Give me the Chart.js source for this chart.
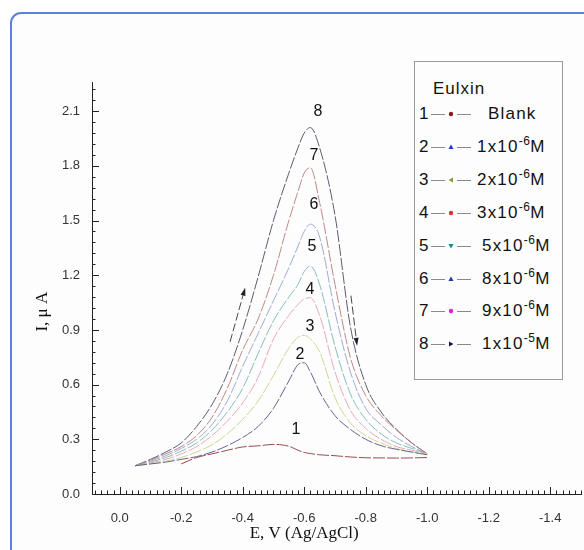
<!DOCTYPE html>
<html>
<head>
<meta charset="utf-8">
<script src="https://cdn.jsdelivr.net/npm/chart.js@4.4.0/dist/chart.umd.min.js"></script>
<style>
  html, body { margin: 0; padding: 0; background: #fff; overflow: hidden; }
  #frame { position: absolute; left: 10px; top: 12px; width: 620px; height: 600px;
           border: 2px solid #5b7fdc; border-radius: 11px; background: #fdfdfd; }
  #chart { position: absolute; left: 0; top: 0; }
  #legend { position: absolute; left: 414px; top: 61px; width: 147px; height: 317px;
            border: 1px solid #9a9a9a; background: #fdfdfd;
            font-family: "Liberation Sans", Arial, sans-serif; font-size: 17px; color: #111; }
  #legend .ltitle { position: absolute; left: 18px; top: 17px; letter-spacing: 1px; }
  #legend .row { position: absolute; left: 0; width: 147px; height: 22px; line-height: 22px; }
  #legend .num { position: absolute; left: 4px; top: 0; }
  #legend svg { position: absolute; left: 14px; top: 6px; }
  #legend .txt { position: absolute; top: 0; letter-spacing: 1.2px; white-space: nowrap; }
  #legend sup { font-size: 12px; vertical-align: 0; position: relative; top: -7px; letter-spacing: 0.5px; }
</style>
</head>
<body>
<div id="frame"></div>
<canvas id="chart" width="584" height="550"></canvas>
<div id="legend"></div>
<script>
// potential grid (V vs Ag/AgCl) and currents (uA)
var potential = [-0.05, -0.1, -0.15, -0.2, -0.25, -0.3, -0.35, -0.4, -0.45, -0.5, -0.55, -0.58, -0.6, -0.62, -0.65, -0.7, -0.75, -0.8, -0.85, -0.9, -0.95, -1.0];
var current1 = [null, null, null, 0.165, 0.2, 0.22, 0.24, 0.258, 0.264, 0.272, 0.262, 0.24, 0.228, 0.222, 0.215, 0.21, 0.203, 0.199, 0.198, 0.197, 0.198, 0.2];
var current2 = [0.155, 0.165, 0.175, 0.19, 0.205, 0.23, 0.265, 0.31, 0.37, 0.47, 0.62, 0.71, 0.72, 0.67, 0.56, 0.43, 0.355, 0.3, 0.265, 0.245, 0.23, 0.215];
var current3 = [0.155, 0.165, 0.18, 0.2, 0.23, 0.27, 0.33, 0.41, 0.51, 0.65, 0.8, 0.86, 0.87, 0.85, 0.78, 0.53, 0.39, 0.32, 0.28, 0.25, 0.23, 0.22];
var current4 = [0.155, 0.17, 0.19, 0.22, 0.26, 0.32, 0.4, 0.5, 0.64, 0.85, 0.98, 1.04, 1.07, 1.077, 0.98, 0.67, 0.46, 0.36, 0.3, 0.26, 0.24, 0.22];
var current5 = [0.155, 0.175, 0.2, 0.235, 0.28, 0.35, 0.45, 0.58, 0.77, 0.95, 1.08, 1.15, 1.22, 1.25, 1.15, 0.81, 0.55, 0.41, 0.33, 0.28, 0.25, 0.22];
var current6 = [0.155, 0.18, 0.21, 0.25, 0.3, 0.38, 0.51, 0.7, 0.88, 1.06, 1.24, 1.36, 1.44, 1.48, 1.41, 1.0, 0.67, 0.47, 0.38, 0.31, 0.26, 0.22];
var current7 = [0.155, 0.185, 0.22, 0.26, 0.32, 0.42, 0.58, 0.79, 0.96, 1.2, 1.5, 1.66, 1.76, 1.79, 1.6, 1.15, 0.75, 0.54, 0.43, 0.35, 0.28, 0.22];
var current8 = [0.155, 0.19, 0.23, 0.28, 0.37, 0.49, 0.66, 0.9, 1.19, 1.5, 1.76, 1.9, 1.98, 2.01, 1.9, 1.53, 0.92, 0.6, 0.45, 0.355, 0.28, 0.22];

var xTicks = [0, -0.2, -0.4, -0.6, -0.8, -1.0, -1.2, -1.4];
var yTicks = [0, 0.3, 0.6, 0.9, 1.2, 1.5, 1.8, 2.1];

var legendTitle = 'Eulxin';
var legendNums = ['1', '2', '3', '4', '5', '6', '7', '8'];
var legendMantissa = ['Blank', '1x10', '2x10', '3x10', '5x10', '8x10', '9x10', '1x10'];
var legendExponent = ['', '-6', '-6', '-6', '-6', '-6', '-6', '-5'];

// curve numbers written next to the peaks (E, I)
var peakLabelE = [-0.573, -0.586, -0.619, -0.619, -0.625, -0.632, -0.632, -0.645];
var peakLabelI = [0.352, 0.764, 0.918, 1.121, 1.357, 1.588, 1.857, 2.1];

// scan direction arrows, [E, I] from -> to
var arrowFrom = [[-0.359, 0.835], [-0.752, 1.088]];
var arrowTo = [[-0.408, 1.132], [-0.772, 0.813]];

var currents = [current1, current2, current3, current4, current5, current6, current7, current8];
var lineColors = ['#8b3a3a', '#55557f', '#cfcf86', '#e6a2ad', '#78b5b3', '#93a3cf', '#bb7a7a', '#4a4a5c'];
var markerColors = ['#8b1a1a', '#1a3fcf', '#8a9a30', '#e03030', '#1a8a8a', '#2040a0', '#e020e0', '#101060'];
var markerShapes = ['circle', 'up', 'left', 'circle', 'down', 'up', 'circle', 'right'];

var datasets = [];
for (var i = 0; i < currents.length; i++) {
  var pts = [];
  for (var j = 0; j < potential.length; j++) {
    pts.push({ x: potential[j], y: currents[i][j] });
  }
  datasets.push({
    label: legendNums[i],
    data: pts,
    borderColor: lineColors[i],
    borderWidth: 0.9,
    borderDash: [12, 2],
    pointRadius: 0,
    cubicInterpolationMode: 'monotone',
    spanGaps: false
  });
}

var tickFont = { family: '"Liberation Sans", Arial, sans-serif', size: 13 };

// inward major + minor tick marks, titles, peak numbers and arrows
var decorations = {
  id: 'decorations',
  afterDraw: function(chart) {
    var ctx = chart.ctx, xs = chart.scales.x, ys = chart.scales.y, area = chart.chartArea;
    ctx.save();
    ctx.strokeStyle = '#222';
    ctx.lineWidth = 1;
    ctx.beginPath();
    for (var k = 4; k >= -75; k--) {
      var px = Math.round(xs.getPixelForValue(k * 0.02)) + 0.5;
      var len = (k % 10 === 0) ? 7 : 3.5;
      ctx.moveTo(px, area.bottom);
      ctx.lineTo(px, area.bottom - len);
    }
    for (var m = 0; m <= 37; m++) {
      var py = Math.round(ys.getPixelForValue(m * 0.06)) + 0.5;
      var ylen = (m % 5 === 0) ? 7 : 3.5;
      ctx.moveTo(area.left, py);
      ctx.lineTo(area.left + ylen, py);
    }
    ctx.stroke();

    // axis titles
    ctx.fillStyle = '#111';
    ctx.font = '17px "Liberation Serif", "Times New Roman", serif';
    ctx.textAlign = 'center';
    ctx.textBaseline = 'middle';
    ctx.fillText('E, V (Ag/AgCl)', xs.getPixelForValue(-0.6), 534);
    ctx.save();
    ctx.translate(43, ys.getPixelForValue(1.0));
    ctx.rotate(-Math.PI / 2);
    ctx.fillText('I, \u03bc A', 0, 0);
    ctx.restore();

    // peak numbers
    ctx.font = '16px "Liberation Sans", Arial, sans-serif';
    for (var n = 0; n < peakLabelE.length; n++) {
      ctx.fillText(legendNums[n], xs.getPixelForValue(peakLabelE[n]), ys.getPixelForValue(peakLabelI[n]));
    }

    // arrows
    ctx.strokeStyle = '#333';
    ctx.lineWidth = 0.9;
    for (var a = 0; a < arrowFrom.length; a++) {
      var x0 = xs.getPixelForValue(arrowFrom[a][0]), y0 = ys.getPixelForValue(arrowFrom[a][1]);
      var x1 = xs.getPixelForValue(arrowTo[a][0]), y1 = ys.getPixelForValue(arrowTo[a][1]);
      var ang = Math.atan2(y1 - y0, x1 - x0);
      ctx.setLineDash([8, 3]);
      ctx.beginPath();
      ctx.moveTo(x0, y0);
      ctx.lineTo(x1 - 6 * Math.cos(ang), y1 - 6 * Math.sin(ang));
      ctx.stroke();
      ctx.setLineDash([]);
      ctx.beginPath();
      ctx.moveTo(x1, y1);
      ctx.lineTo(x1 - 8 * Math.cos(ang) + 2.5 * Math.sin(ang), y1 - 8 * Math.sin(ang) - 2.5 * Math.cos(ang));
      ctx.lineTo(x1 - 8 * Math.cos(ang) - 2.5 * Math.sin(ang), y1 - 8 * Math.sin(ang) + 2.5 * Math.cos(ang));
      ctx.closePath();
      ctx.fillStyle = '#222';
      ctx.fill();
    }
    ctx.restore();
  }
};

new Chart(document.getElementById('chart'), {
  type: 'line',
  data: { datasets: datasets },
  options: {
    responsive: false,
    animation: false,
    layout: { padding: { top: 82, right: 3 } },
    plugins: { legend: { display: false }, tooltip: { enabled: false } },
    scales: {
      x: {
        type: 'linear',
        reverse: true,
        min: -1.5,
        max: 0.09,
        afterBuildTicks: function(s) { s.ticks = xTicks.map(function(v) { return { value: v }; }); },
        afterFit: function(s) { s.height = 56; },
        grid: { display: true, drawOnChartArea: false, drawTicks: false },
        border: { display: true, color: '#222', width: 1 },
        ticks: { padding: 17, color: '#333', font: tickFont, maxRotation: 0,
                 callback: function(v) { return Number(v).toFixed(1); } }
      },
      y: {
        type: 'linear',
        min: 0,
        max: 2.26,
        afterBuildTicks: function(s) { s.ticks = yTicks.map(function(v) { return { value: v }; }); },
        afterFit: function(s) { s.width = 92; },
        grid: { display: true, drawOnChartArea: false, drawTicks: false },
        border: { display: true, color: '#222', width: 1 },
        ticks: { padding: 12, color: '#333', font: tickFont,
                 callback: function(v) { return Number(v).toFixed(1); } }
      }
    }
  },
  plugins: [decorations]
});

function markerSvg(shape, color) {
  var mk;
  if (shape === 'circle') mk = '<circle cx="22" cy="5" r="2.2" fill="' + color + '"/>';
  else if (shape === 'up') mk = '<path d="M22 2.5 L24.6 7 L19.4 7 Z" fill="' + color + '"/>';
  else if (shape === 'down') mk = '<path d="M22 7.5 L24.6 3 L19.4 3 Z" fill="' + color + '"/>';
  else if (shape === 'left') mk = '<path d="M19.5 5 L24 2.4 L24 7.6 Z" fill="' + color + '"/>';
  else mk = '<path d="M24.5 5 L20 2.4 L20 7.6 Z" fill="' + color + '"/>';
  return '<svg width="44" height="10">' +
    '<line x1="2" y1="5.5" x2="16" y2="5.5" stroke="#8a8a8a" stroke-width="1"/>' +
    '<line x1="28" y1="5.5" x2="42" y2="5.5" stroke="#8a8a8a" stroke-width="1"/>' + mk + '</svg>';
}

function buildLegend() {
  var box = document.getElementById('legend');
  var html = '<div class="ltitle">' + legendTitle + '</div>';
  for (var i = 0; i < legendNums.length; i++) {
    var top = 41 + i * 32.9;
    var left = legendExponent[i] === '' ? 73 : (i < 4 ? 62 : 67);
    var text = legendMantissa[i];
    if (legendExponent[i] !== '') text += '<sup>' + legendExponent[i] + '</sup>M';
    html += '<div class="row" style="top:' + top + 'px">' +
      '<span class="num">' + legendNums[i] + '</span>' +
      markerSvg(markerShapes[i], markerColors[i]) +
      '<span class="txt" style="left:' + left + 'px">' + text + '</span></div>';
  }
  box.innerHTML = html;
}
buildLegend();
</script>
</body>
</html>
